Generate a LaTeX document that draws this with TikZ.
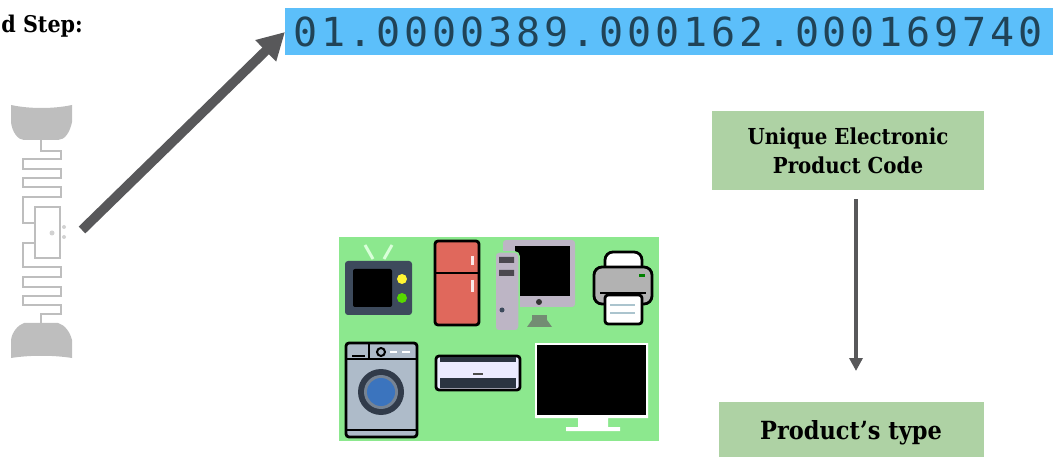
\documentclass[tikz,border=0pt]{standalone}
\usepackage{fontspec}
\setmainfont{DejaVu Serif Condensed}
\newfontfamily\codefont[LetterSpace=9.5]{DejaVu Sans Mono}
\usetikzlibrary{arrows.meta}
\definecolor{codeblue}{HTML}{5CBFFA}
\definecolor{boxgreen}{HTML}{AED2A4}
\definecolor{arrowgray}{HTML}{58585A}
\definecolor{taggray}{HTML}{BEBEBE}
\definecolor{bggreen}{HTML}{8CE88E}
\definecolor{tvslate}{HTML}{3D4A5C}
\definecolor{pcgray}{HTML}{BDB5C5}
\definecolor{washgray}{HTML}{AEBBC9}
\definecolor{fridgered}{HTML}{E0685C}
\definecolor{doorblue}{HTML}{3B74BE}
\tikzset{
  labelbox/.style={fill=boxgreen,align=center,font=\bfseries,inner sep=0pt},
  applianceline/.style={draw=black,line width=2.8pt,rounded corners=3pt},
  tagline/.style={taggray,line width=2.5pt},
}
\begin{document}
\begin{tikzpicture}[x=1pt,y=-1pt,>=latex]
   \useasboundingbox (0,0) rectangle (1053,457);
   \clip (0,0) rectangle (1053,457);
   %heading
   \node[anchor=base east,font=\bfseries\fontsize{23}{28}\selectfont,inner sep=0pt] (heading) at (83,33) {d Step:};
   %code
   \node[fill=codeblue,minimum width=768pt,minimum height=47pt,inner sep=0pt,anchor=west] (code) at (285,32) {};
   \node[anchor=base west,inner sep=0pt,text=black!65!codeblue,font=\codefont\fontsize{40}{44}\selectfont] (codetext) at (293,47) {01.0000389.000162.000169740};
   %boxes
   \node[labelbox,minimum width=272pt,minimum height=79pt,font=\bfseries\fontsize{22}{29}\selectfont] (unique) at (848,150.5) {Unique Electronic\\Product Code};
   \node[labelbox,minimum width=265pt,minimum height=80pt] (type) at (851.5,442) {};
   \node[inner sep=0pt,font=\bfseries\fontsize{25}{30}\selectfont] (typetext) at (851,433) {Product's type};
   %arrows
   \coordinate (tagend) at (82,230);
   \coordinate (typetop) at (856,371);
   \draw[-{Triangle[length=27pt,width=28pt]},line width=9.5pt,arrowgray] (tagend) -- (code.west);
   \draw[-{Triangle[length=13pt,width=13pt]},line width=4pt,arrowgray,shorten <=9pt] ([xshift=8pt]unique.south) -- (typetop);
   %tag
   \fill[taggray] (11,105) .. controls (30,109) and (53,109) .. (72,105) -- (72,122) .. controls (70,132) and (65,140) .. (58,140) -- (24,140) .. controls (18,140) and (12,132) .. (11,122) -- cycle;
   \fill[taggray] (24,323) -- (58,323) .. controls (65,325) and (70,332) .. (72,340) -- (72,358) .. controls (53,355) and (30,355) .. (11,358) -- (11,340) .. controls (12,332) and (18,325) .. (24,323) -- cycle;
   \draw[tagline] (41,140) -- (41,151) -- (61,151) -- (61,159) -- (23,159) -- (23,169) -- (61,169) -- (61,178) -- (23,178) -- (23,187) -- (61,187) -- (61,197) -- (23,197) -- (23,223) -- (35,223);
   \draw[tagline] (35,243) -- (23,243) -- (23,267) -- (61,267) -- (61,277) -- (23,277) -- (23,287) -- (61,287) -- (61,296) -- (23,296) -- (23,305) -- (61,305) -- (61,314) -- (41,314) -- (41,323);
   \draw[tagline] (35,207) rectangle (60,258);
   \fill[taggray!70] (52,233) circle (2.5) (64,227) circle (2) (64,237) circle (2);
   %appliances
   \fill[bggreen] (339,237) rectangle (659,441);
   %old tv
   \draw[white!85!green,line width=3pt] (365,245) -- (373,259) (392,245) -- (384,259);
   \fill[tvslate,rounded corners=3pt] (345,261) rectangle (412,315);
   \fill[black,rounded corners=2pt] (353,269) rectangle (392,307);
   \fill[yellow!80!white] (402,279) circle (5);
   \fill[green!60!yellow!85!black] (402,298) circle (5);
   %fridge
   \draw[applianceline,fill=fridgered] (435,241) rectangle (479,325);
   \draw[black,line width=2.8pt] (435,273) -- (479,273);
   \draw[white!85!fridgered,line width=3pt] (472,256) -- (472,265) (472,280) -- (472,292);
   %computer
   \fill[pcgray,rounded corners=3pt] (503,240) rectangle (575,307);
   \fill[black] (515,246) rectangle (570,296);
   \fill[black!80] (539,302) circle (3);
   \fill[gray!90!green] (532,315) rectangle (547,320);
   \fill[gray!90!green] (527,327) -- (532,320) -- (547,320) -- (552,327) -- cycle;
   \draw[bggreen,line width=1.5pt,fill=pcgray,rounded corners=4pt] (495,252) rectangle (519,331);
   \fill[black!60!pcgray] (499,257) rectangle (514,263) (499,270) rectangle (514,276);
   \fill[tvslate] (502,310) circle (2.5);
   %printer
   \draw[applianceline,fill=white,rounded corners=8pt] (605,252) rectangle (642,280);
   \draw[applianceline,fill=gray!60,rounded corners=8pt] (594,267) rectangle (652,304);
   \draw[black,line width=2.8pt] (600,293) -- (646,293);
   \draw[applianceline,fill=white] (605,295) rectangle (642,324);
   \draw[cyan!30!gray!60,line width=2.5pt] (610,305) -- (635,305) (610,313) -- (635,313);
   \fill[green!50!black] (639,274.5) rectangle (645,277.5);
   %washer
   \draw[applianceline,fill=washgray] (346,343) rectangle (417,437);
   \draw[black,line width=2.5pt] (346,359) -- (417,359) (369,343) -- (369,359) (346,430) -- (417,430);
   \draw[black,line width=2pt] (352,356) -- (365,356);
   \draw[black,line width=2pt,fill=washgray] (381,352) circle (4);
   \draw[white,line width=2.5pt] (390,352) -- (397,352) (402,352) -- (410,352);
   \fill[tvslate!80!black] (381,392) circle (23);
   \fill[washgray!50!tvslate] (381,392) circle (17);
   \fill[doorblue] (381,392) circle (14);
   %air conditioner
   \draw[applianceline,fill=white!92!blue] (436,356) rectangle (520,390);
   \fill[tvslate!70!black] (440,357) rectangle (516,362);
   \fill[tvslate!70!black] (440,378) rectangle (516,388);
   \draw[black!70,line width=1.5pt] (473,374) -- (483,374);
   %flat tv
   \fill[white] (535,343) rectangle (648,418) (578,418) rectangle (608,427) (566,427) rectangle (620,431);
   \fill[black] (537,345) rectangle (646,415);
\end{tikzpicture}
\end{document}
